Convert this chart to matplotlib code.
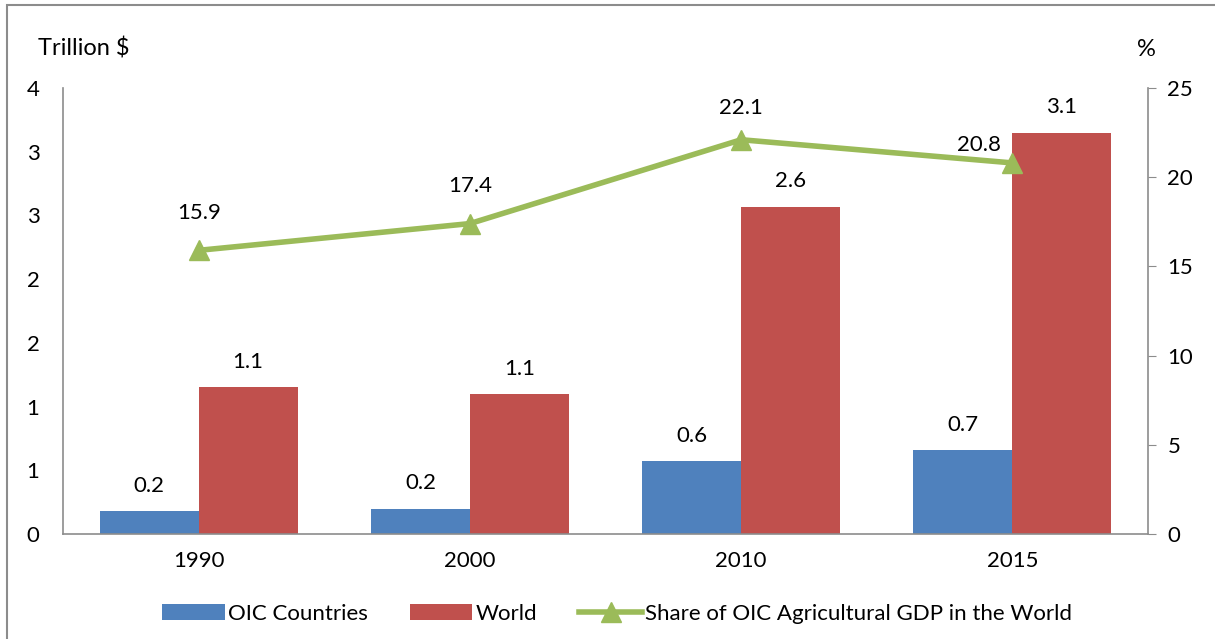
import numpy as np
import matplotlib.pyplot as plt
from matplotlib.patches import Rectangle

plt.rcParams['font.family'] = ['Lato', 'DejaVu Sans']

years = ['1990', '2000', '2010', '2015']
oic = [0.18, 0.20, 0.57, 0.66]
world = [1.15, 1.10, 2.57, 3.15]
oic_labels = ['0.2', '0.2', '0.6', '0.7']
world_labels = ['1.1', '1.1', '2.6', '3.1']
share = [15.9, 17.4, 22.1, 20.8]

blue = '#4F81BD'
red = '#C0504D'
green = '#9BBB59'
fs = 16

fig = plt.figure(figsize=(12.15, 6.39), dpi=100)
ax = fig.add_axes([0.0519, 0.1643, 0.893, 0.698])
x = np.arange(len(years))
w = 0.365

b1 = ax.bar(x - w / 2, oic, w, color=blue, label='OIC Countries')
b2 = ax.bar(x + w / 2, world, w, color=red, label='World')
for i in range(len(years)):
    ax.text(x[i] - w / 2, oic[i] + 0.12, oic_labels[i], ha='center', va='bottom', fontsize=fs)
    ax.text(x[i] + w / 2, world[i] + 0.12, world_labels[i], ha='center', va='bottom', fontsize=fs)

ax.set_xlim(-0.5, 3.5)
ax.set_ylim(0, 3.5)
ax.set_yticks(np.arange(0, 3.51, 0.5))
ax.set_yticklabels(['0', '1', '1', '2', '2', '3', '3', '4'], fontsize=fs)
ax.set_xticks(x)
ax.set_xticklabels(years, fontsize=fs)
ax.tick_params(axis='x', length=0, pad=12)
ax.tick_params(axis='y', length=0, pad=17)
for s in ['top', 'right']:
    ax.spines[s].set_visible(False)
for s in ['left', 'bottom']:
    ax.spines[s].set_color('#8c8c8c')
    ax.spines[s].set_linewidth(1.2)

ax2 = ax.twinx()
ax2.set_ylim(0, 25)
ax2.set_yticks(np.arange(0, 26, 5))
ax2.tick_params(axis='y', labelsize=fs, length=6, color='#8c8c8c', pad=8)
ln, = ax2.plot(x, share, color=green, lw=4, marker='^', markersize=14,
               label='Share of OIC Agricultural GDP in the World')
offsets = [(0, 20), (0, 20), (0, 16), (-24, 6)]
for i in range(len(years)):
    ax2.annotate(f'{share[i]:.1f}', (x[i], share[i]), xytext=offsets[i], textcoords='offset points',
                 ha='center', va='bottom', fontsize=fs)
for s in ['top', 'left', 'bottom']:
    ax2.spines[s].set_visible(False)
ax2.spines['right'].set_color('#8c8c8c')
ax2.spines['right'].set_linewidth(1.2)
ax2.spines['right'].set_position(('data', 3.5))

fig.text(38 / 1215, 1 - 48 / 639, 'Trillion $', fontsize=17, va='center')
fig.text(1146 / 1215, 1 - 50 / 639, '%', fontsize=17, va='center', ha='center')

fig.legend(handles=[b1, b2, ln], loc='center', bbox_to_anchor=(0.508, 1 - 614 / 639), ncol=3,
           frameon=False, fontsize=fs, handlelength=2.8, handletextpad=0.15, columnspacing=1.9)

fig.patches.append(Rectangle((7 / 1215, -0.1), 1.2, 1 - 5 / 639 + 0.1, transform=fig.transFigure,
                             fill=False, edgecolor='#8c8c8c', lw=1.5))

fig.savefig('out.png', dpi=100)
